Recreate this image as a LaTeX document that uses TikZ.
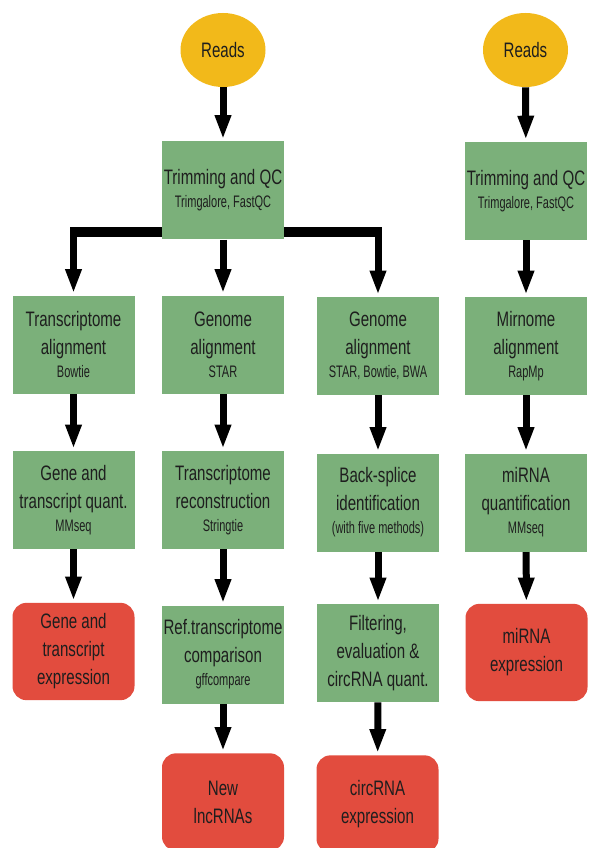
\documentclass[tikz,border=0pt]{standalone}
\usepackage{fontspec}
\setmainfont{Liberation Sans}[FakeStretch=0.72]
\newfontfamily\toolfont{Liberation Sans}[FakeStretch=0.66]
\usetikzlibrary{arrows.meta,shapes.geometric,backgrounds}
\definecolor{boxgreen}{RGB}{123,176,122}
\definecolor{boxred}{RGB}{226,76,62}
\definecolor{readsyellow}{RGB}{242,185,26}
\definecolor{txtcol}{RGB}{30,30,30}
\newcommand{\toolname}[1]{\\[-3.75pt]{\toolfont\fontsize{12.5}{14}\selectfont #1}}
\begin{document}
\begin{tikzpicture}[x=0.75pt,y=-0.75pt,
  every node/.style={text=txtcol, font=\fontsize{15.7}{21}\selectfont, align=center, inner sep=0pt},
  stepbox/.style={rectangle, fill=boxgreen, minimum width=91.5pt, minimum height=73.5pt},
  resultbox/.style={rectangle, rounded corners=10.5pt, fill=boxred, minimum width=91.5pt, minimum height=73pt},
  readsnode/.style={ellipse, fill=readsyellow, minimum width=63.75pt, minimum height=55.5pt},
  arr/.style={line width=5.25pt, -{Triangle[width=11.25pt,length=18pt]}, shorten >=1.5pt},
  branchbar/.style={line width=7pt, shorten >=-2.625pt},
]
\useasboundingbox (0,0) rectangle (588,848);

% start nodes
\node[readsnode] (r1) at (223,50) {Reads};
\node[readsnode] (r2) at (525.5,50) {Reads};
\node[stepbox] (t1) at (223,190.5) {Trimming and QC\toolname{Trimgalore, FastQC}};
\node[stepbox] (t2) at (526,191) {Trimming and QC\toolname{Trimgalore, FastQC}};

% row 2
\node[stepbox] (a1) at (73.5,344.5) {Transcriptome\\alignment\toolname{Bowtie}};
\node[stepbox] (b1) at (223,344.5) {Genome\\alignment\toolname{STAR}};
\node[stepbox] (c1) at (378,346) {Genome\\alignment\toolname{STAR, Bowtie, BWA}};
\node[stepbox] (d1) at (526,346) {Mirnome\\alignment\toolname{RapMp}};

% row 3
\node[stepbox] (a2) at (73.5,500) {Gene and\\transcript quant.\toolname{MMseq}};
\node[stepbox] (b2) at (223,500) {Transcriptome\\reconstruction\toolname{Stringtie}};
\node[stepbox] (c2) at (378,502.5) {Back-splice\\identification\toolname{(with five methods)}};
\node[stepbox] (d2) at (526,502.5) {miRNA\\quantification\toolname{MMseq}};

% row 4
\node[resultbox] (a3) at (73.5,651.5) {Gene and\\transcript\\expression};
\node[stepbox] (b3) at (223,654.5) {Ref.transcriptome\\comparison\toolname{gffcompare}};
\node[stepbox] (c3) at (378,653) {Filtering,\\evaluation \&\\circRNA quant.};
\node[resultbox] (d3) at (526.5,652.5) {miRNA\\expression};

% row 5
\node[resultbox] (b4) at (223,802) {New\\lncRNAs};
\node[resultbox] (c4) at (377.5,804) {circRNA\\expression};

\coordinate (jl) at (73.5,232);
\coordinate (jr) at (378,232);

\begin{scope}[on background layer]
  \fill[white] (0,0) rectangle (588,848);
  \draw[arr] (r1) -- (t1);
  \draw[arr] (r2) -- (t2);
  \draw[branchbar] (t1.west |- jl) -- (jl);
  \draw[branchbar] (t1.east |- jr) -- (jr);
  \draw[arr] (jl) -- (a1.north);
  \draw[arr] (t1) -- (b1);
  \draw[arr] (jr) -- (c1.north);
  \draw[arr] (t2) -- (d1);
  \draw[arr] (a1) -- (a2);
  \draw[arr] (a2) -- (a3);
  \draw[arr] (b1) -- (b2);
  \draw[arr] (b2) -- (b3);
  \draw[arr] (b3) -- (b4);
  \draw[arr] (c1) -- (c2);
  \draw[arr] (c2) -- (c3);
  \draw[arr] (c3) -- (c4);
  \draw[arr] (d1) -- (d2);
  \draw[arr] (d2) -- (d3);
\end{scope}
\end{tikzpicture}
\end{document}
